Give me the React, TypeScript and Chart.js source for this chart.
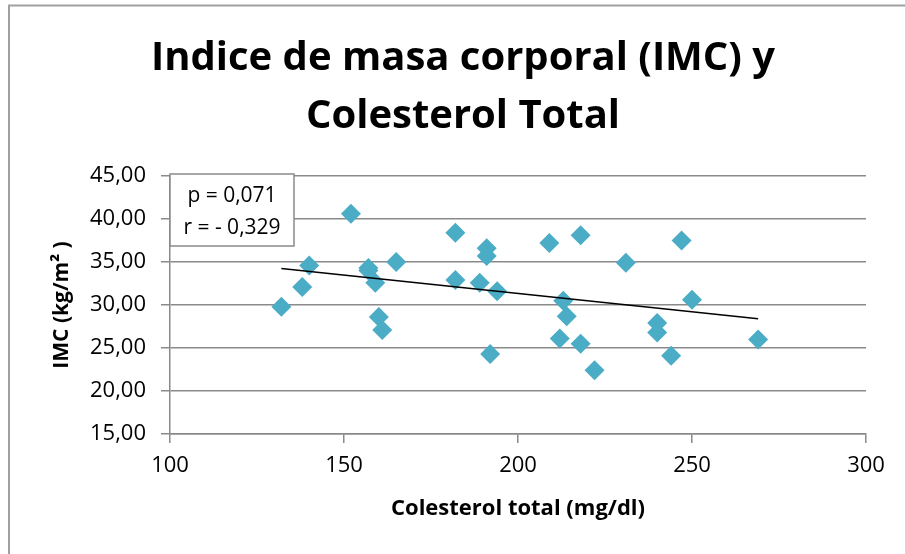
import React, { useEffect, useRef } from 'react';
import { Chart, registerables } from 'chart.js';

Chart.register(...registerables);

// ---- Data ----
const colesterol = [132, 138, 140, 152, 157, 157, 159, 160, 161, 165, 182, 182, 191, 191, 189, 194, 192, 209, 218, 213, 214, 212, 218, 222, 231, 240, 240, 244, 247, 250, 269];
const imc = [29.8, 32.1, 34.6, 40.6, 34.3, 34.0, 32.6, 28.6, 27.1, 35.0, 38.4, 32.9, 36.6, 35.7, 32.6, 31.6, 24.3, 37.2, 38.1, 30.5, 28.7, 26.1, 25.5, 22.4, 34.9, 27.9, 26.8, 24.1, 37.5, 30.6, 26.0];
const titleLines = ['Indice de masa corporal (IMC) y', 'Colesterol Total'];
const statsLines = ['p = 0,071', 'r = - 0,329'];
const xTitle = 'Colesterol total (mg/dl)';
const yTitle = 'IMC (kg/m² )';
const xRange = [100, 300];
const xStep = 50;
const yRange = [15, 45];
const yStep = 5;

const FONT = '"Open Sans"';
const GRID = '#8a8a8a';

function regressionLine(xs: number[], ys: number[]) {
  const n = xs.length;
  const mx = xs.reduce((a, b) => a + b, 0) / n;
  const my = ys.reduce((a, b) => a + b, 0) / n;
  let sxy = 0, sxx = 0;
  for (let i = 0; i < n; i++) {
    sxy += (xs[i] - mx) * (ys[i] - my);
    sxx += (xs[i] - mx) * (xs[i] - mx);
  }
  const b = sxy / sxx;
  const a = my - b * mx;
  const x0 = Math.min(...xs);
  const x1 = Math.max(...xs);
  return [{ x: x0, y: a + b * x0 }, { x: x1, y: a + b * x1 }];
}

const decorPlugin = {
  id: 'decor',
  beforeDraw(chart: any) {
    const ctx = chart.ctx;
    ctx.save();
    ctx.strokeStyle = '#a0a0a0';
    ctx.lineWidth = 2;
    ctx.strokeRect(9, 5.5, chart.width + 20, chart.height + 20);
    ctx.restore();
  },
  afterDatasetsDraw(chart: any) {
    const ctx = chart.ctx;
    const area = chart.chartArea;
    const bx = area.left;
    const by = area.top - 2;
    const bw = 124;
    const bh = 72;
    ctx.save();
    ctx.fillStyle = '#ffffff';
    ctx.fillRect(bx, by, bw, bh);
    ctx.strokeStyle = '#8a8a8a';
    ctx.lineWidth = 1.5;
    ctx.strokeRect(bx, by, bw, bh);
    ctx.fillStyle = '#000000';
    ctx.font = `21px ${FONT}`;
    ctx.textAlign = 'center';
    ctx.textBaseline = 'middle';
    statsLines.forEach((t, i) => {
      ctx.fillText(t, bx + bw / 2, by + 22 + i * 32);
    });
    ctx.restore();
  },
};

export default function App() {
  const ref = useRef<HTMLCanvasElement | null>(null);

  useEffect(() => {
    document.body.style.margin = '0';
    const canvas = ref.current;
    if (!canvas) return;
    const points = colesterol.map((x, i) => ({ x, y: imc[i] }));
    const trend = regressionLine(colesterol, imc);

    const chart = new Chart(canvas, {
      type: 'scatter',
      data: {
        datasets: [
          {
            type: 'line',
            label: 'Tendencia',
            data: trend,
            borderColor: '#000000',
            borderWidth: 1.5,
            pointRadius: 0,
            fill: false,
            order: 0,
          } as any,
          {
            label: 'IMC',
            data: points,
            pointStyle: 'rectRot',
            pointRadius: 10,
            pointHoverRadius: 10,
            backgroundColor: '#4BACC6',
            borderColor: '#4BACC6',
            borderWidth: 0,
            order: 1,
          },
        ],
      },
      options: {
        responsive: false,
        animation: false,
        layout: { padding: { left: 60, right: 39, top: 0, bottom: 0 } },
        plugins: {
          legend: { display: false },
          tooltip: { enabled: false },
          title: {
            display: true,
            text: titleLines,
            color: '#000000',
            font: { family: FONT, size: 40, weight: 'bold', lineHeight: 58 / 40 },
            padding: { top: 30, bottom: 30 },
          },
        },
        scales: {
          x: {
            type: 'linear',
            min: xRange[0],
            max: xRange[1],
            afterFit: (s: any) => { s.height = 120; },
            ticks: {
              stepSize: xStep,
              color: '#000000',
              font: { family: FONT, size: 22 },
              padding: 10,
              maxRotation: 0,
            },
            grid: {
              display: true,
              drawOnChartArea: false,
              drawTicks: true,
              tickLength: 9,
              color: GRID,
              lineWidth: 1.5,
            },
            border: { display: true, color: GRID, width: 1.5 },
            title: {
              display: true,
              text: xTitle,
              color: '#000000',
              font: { family: FONT, size: 22, weight: 'bold', lineHeight: 1.2 },
              padding: { top: 0, bottom: 32 },
            },
          },
          y: {
            type: 'linear',
            min: yRange[0],
            max: yRange[1],
            afterFit: (s: any) => { s.width = 110; },
            ticks: {
              stepSize: yStep,
              color: '#000000',
              font: { family: FONT, size: 22 },
              padding: 15,
              callback: (v: any) => Number(v).toFixed(2).replace('.', ','),
            },
            grid: {
              display: true,
              drawOnChartArea: true,
              drawTicks: true,
              tickLength: 9,
              color: GRID,
              lineWidth: 1.5,
            },
            border: { display: true, color: GRID, width: 1.5 },
            title: {
              display: true,
              text: yTitle,
              color: '#000000',
              font: { family: FONT, size: 21, weight: 'bold', lineHeight: 1.2 },
              padding: { top: -11, bottom: 0 },
            },
          },
        },
      },
      plugins: [decorPlugin],
    });
    return () => chart.destroy();
  }, []);

  return (
    <div style={{ width: 905, height: 554, position: 'relative', background: '#ffffff' }}>
      <canvas ref={ref} width={905} height={554} style={{ display: 'block' }} />
    </div>
  );
}
